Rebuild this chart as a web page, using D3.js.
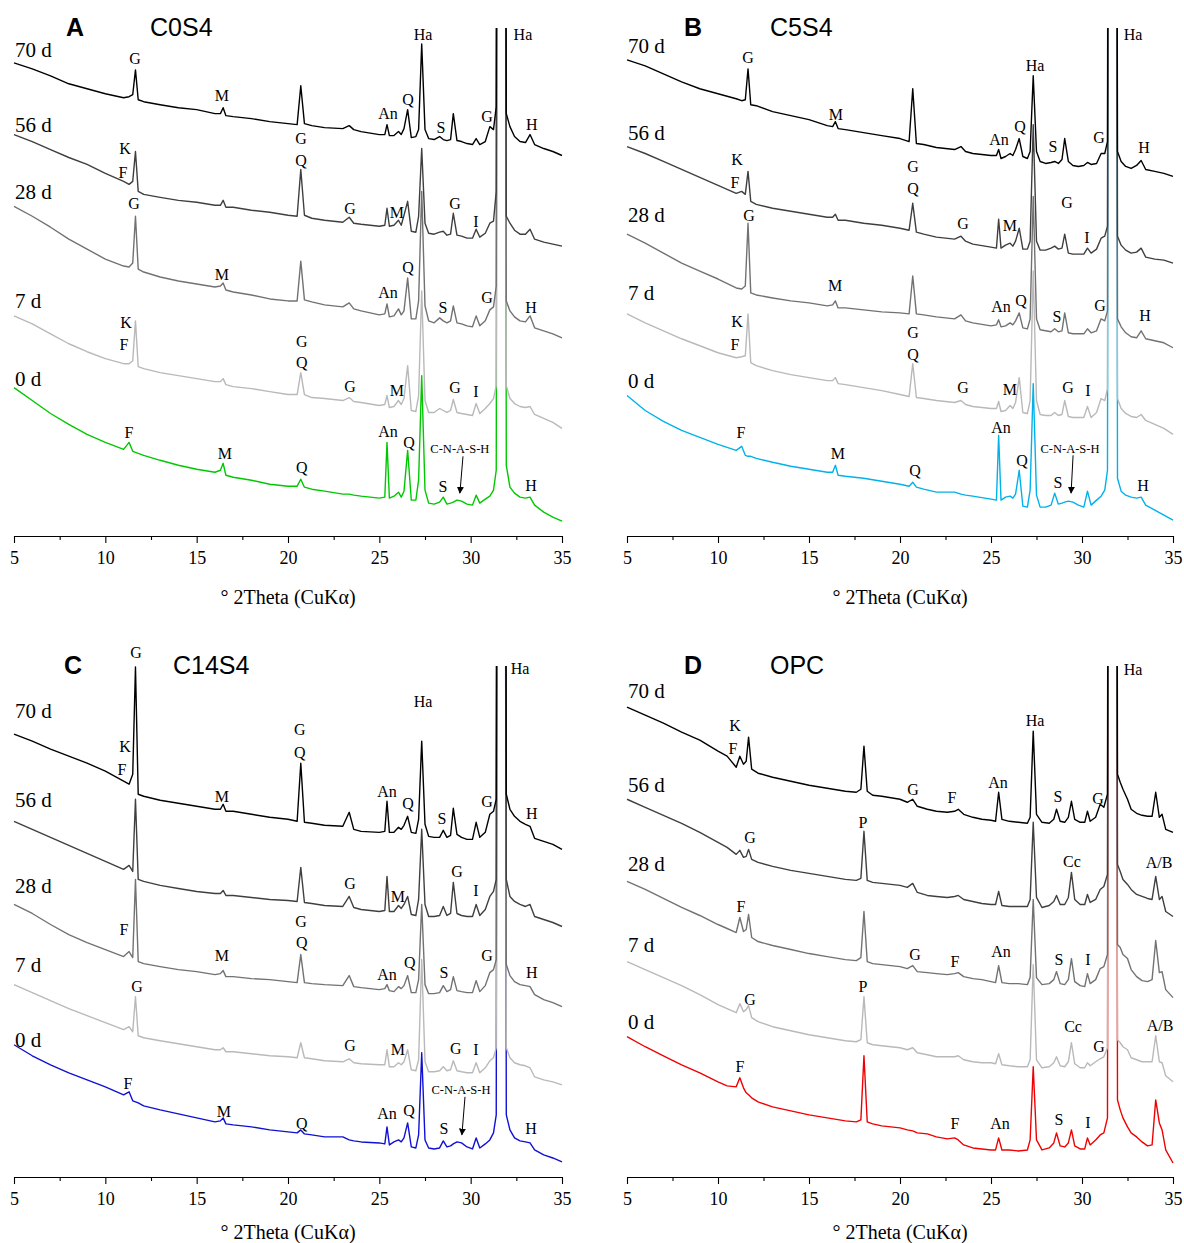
<!DOCTYPE html>
<html>
<head>
<meta charset="utf-8">
<script src="https://cdn.jsdelivr.net/npm/d3@7"></script>
<style>
  body { margin: 0; background: #fff; }
  svg { display: block; }
</style>
</head>
<body>
<svg id="chart" width="1184" height="1243"></svg>
<script>
// ---- XRD patterns (intensity in a.u., curves already offset by curing age) ----
const ages = ["70 d", "56 d", "28 d", "7 d", "0 d"];
const majorTicks = [5, 10, 15, 20, 25, 30, 35];
const minorTicks = [7.5, 12.5, 17.5, 22.5, 27.5, 32.5];
const agedColors = ["#000000", "#3f3f3f", "#727272", "#b9b9b9"];

// 2θ sampling used for the slag-blend series (panels A–C)
const gridABC = [5,6,7,8,9,10,11,11.3,11.5,11.65,11.8,12.1,13,14,15,16,16.3,16.45,16.6,17,18,19,20,20.5,20.7,20.9,21.3,22,23,23.35,23.6,24,25,25.3,25.42,25.55,25.8,26.05,26.2,26.35,26.55,26.75,27,27.15,27.32,27.5,27.7,28,28.3,28.5,28.7,28.9,29.05,29.25,29.5,29.8,30.1,30.3,30.5,30.8,31.05,31.25,31.4,31.55,31.8,31.95,32.15,32.4,32.7,33,33.25,33.5,34,34.5,35];
// 2θ sampling used for the OPC series (panel D)
const gridD = [5,6,7,8,9,10,10.5,11,11.2,11.4,11.55,11.68,11.85,12.2,13,14,15,16,17,17.6,17.85,18.02,18.2,18.5,19,20,20.4,20.7,20.95,21.5,22,22.6,23,23.2,23.5,24,24.5,25,25.25,25.42,25.6,26,26.5,27,27.15,27.32,27.5,27.8,28.2,28.45,28.6,28.8,29.05,29.25,29.42,29.6,29.9,30.15,30.3,30.45,30.75,31,31.2,31.4,31.55,31.8,31.95,32.1,32.25,32.5,32.7,33,33.3,33.6,33.85,34.05,34.25,34.4,34.6,35];

// C0S4
const c0s4_70 = [4750,4690,4620,4540,4490,4440,4400,4410,4430,4680,4380,4360,4330,4300,4280,4240,4240,4300,4220,4210,4190,4160,4140,4130,4520,4140,4120,4100,4090,4120,4080,4060,4030,4030,4130,4020,4020,4060,4030,4090,4280,4000,4010,4080,4940,4080,3990,3980,4010,3980,3970,3980,4240,3970,3960,3940,3930,3990,3930,3960,4110,4080,4310,20000,20000,4240,4110,4010,3960,3950,4030,3930,3890,3860,3820];
const c0s4_56 = [4030,3960,3880,3800,3730,3640,3560,3530,3560,3860,3460,3430,3400,3370,3350,3320,3320,3370,3300,3300,3270,3250,3220,3210,3680,3220,3190,3170,3150,3200,3140,3130,3110,3120,3290,3110,3120,3170,3120,3220,3360,3060,3050,3210,3890,3140,3040,3030,3050,3060,3020,3030,3240,3020,3010,2990,2990,3080,3000,3040,3140,3160,3460,20000,20000,3210,3140,3070,3030,3030,3080,2980,2950,2930,2910];
const c0s4_28 = [3310,3210,3100,2980,2880,2780,2710,2700,2740,3210,2680,2650,2600,2560,2530,2500,2510,2540,2470,2450,2420,2380,2360,2360,2760,2370,2350,2320,2300,2340,2280,2260,2220,2230,2330,2200,2210,2280,2220,2260,2590,2180,2180,2360,3460,2310,2160,2140,2190,2160,2140,2160,2310,2140,2130,2110,2100,2210,2110,2160,2270,2300,2510,20000,20000,2360,2260,2200,2160,2150,2210,2090,2060,2030,1990];
const c0s4_7 = [2210,2130,2030,1930,1850,1780,1730,1730,1760,2160,1700,1680,1640,1610,1580,1550,1550,1580,1520,1500,1480,1450,1420,1420,1640,1420,1390,1380,1360,1390,1350,1340,1310,1320,1410,1290,1300,1360,1320,1380,1710,1260,1250,1410,2460,1360,1240,1240,1280,1260,1240,1260,1370,1240,1230,1220,1210,1330,1230,1280,1330,1380,1510,20000,20000,1510,1380,1330,1300,1290,1300,1220,1180,1140,1080];
const c0s4_0 = [1490,1360,1230,1120,1020,940,870,940,850,840,830,810,760,710,670,640,660,730,610,590,560,520,500,500,570,490,470,450,420,420,410,400,380,390,940,380,400,440,390,450,860,360,360,560,1610,460,330,320,340,390,320,330,340,360,350,320,310,410,330,370,400,460,660,20000,20000,710,490,430,390,380,390,310,240,190,150];

// C5S4
const c5s4_70 = [4780,4720,4640,4560,4490,4440,4390,4370,4380,4690,4330,4320,4260,4220,4180,4120,4110,4160,4090,4080,4050,4020,3990,3960,4490,3940,3930,3900,3880,3910,3860,3840,3820,3820,3880,3790,3810,3840,3820,3880,3990,3810,3790,3860,4620,3860,3760,3740,3750,3760,3740,3780,3990,3760,3720,3710,3720,3750,3730,3740,3840,3840,3960,20000,20000,3860,3760,3710,3690,3720,3770,3680,3660,3640,3610];
const c5s4_56 = [3910,3840,3760,3680,3600,3520,3440,3460,3430,3660,3360,3330,3290,3260,3230,3200,3200,3230,3170,3170,3140,3120,3090,3070,3340,3050,3030,3000,2980,3010,2960,2930,2900,2890,3180,2890,2920,2940,2910,2960,3090,2880,2880,2960,4130,2960,2870,2870,2890,2910,2880,2890,3030,2840,2830,2830,2830,2890,2840,2880,2990,3010,3110,20000,20000,3010,2920,2870,2840,2850,2890,2800,2780,2770,2740];
const c5s4_28 = [3030,2940,2840,2740,2660,2580,2490,2480,2510,3140,2440,2420,2390,2360,2340,2310,2320,2360,2290,2290,2270,2250,2240,2230,2610,2230,2220,2200,2180,2220,2160,2140,2110,2120,2170,2100,2110,2140,2120,2160,2240,2090,2080,2180,3410,2180,2070,2060,2050,2080,2050,2060,2240,2040,2030,2030,2030,2080,2040,2060,2180,2160,2260,20000,20000,2180,2100,2040,2000,1990,2060,1980,1960,1940,1890];
const c5s4_7 = [2230,2140,2060,1980,1910,1840,1790,1800,1810,2230,1740,1710,1660,1620,1590,1560,1560,1590,1530,1520,1490,1460,1420,1400,1730,1390,1380,1360,1340,1360,1320,1300,1280,1280,1350,1250,1260,1310,1280,1340,1590,1240,1230,1360,2660,1360,1220,1210,1210,1240,1210,1220,1360,1200,1190,1190,1190,1300,1190,1240,1380,1360,1480,20000,20000,1380,1280,1230,1200,1190,1220,1160,1120,1080,1020];
const c5s4_0 = [1410,1260,1150,1060,990,920,860,900,810,800,800,780,740,700,670,640,640,710,610,600,580,550,520,500,540,490,470,440,440,420,410,400,370,360,1010,360,390,400,380,420,660,300,290,460,1530,410,290,290,310,430,320,330,340,350,340,310,290,450,310,360,400,460,660,20000,20000,580,450,410,390,380,390,310,260,210,160];

// C14S4
const c14s4_70 = [4420,4350,4270,4200,4130,4050,3950,3920,4020,5090,3820,3800,3760,3730,3700,3670,3670,3720,3650,3650,3620,3590,3570,3550,4130,3540,3530,3510,3500,3640,3470,3450,3440,3450,3750,3440,3440,3490,3470,3510,3600,3440,3430,3570,4350,3520,3400,3390,3390,3460,3390,3410,3680,3420,3390,3370,3370,3540,3390,3440,3620,3650,3770,20000,20000,3820,3670,3600,3550,3520,3500,3380,3350,3320,3270];
const c14s4_56 = [3550,3470,3390,3310,3230,3150,3070,3110,3050,3770,2970,2950,2910,2880,2850,2830,2830,2860,2810,2810,2790,2770,2760,2750,3090,2740,2730,2710,2700,2800,2690,2670,2650,2660,3000,2650,2650,2710,2680,2720,2800,2620,2610,2770,3470,2720,2600,2600,2610,2700,2610,2630,2940,2630,2610,2600,2600,2720,2610,2670,2800,2850,2970,20000,20000,2970,2800,2750,2720,2700,2720,2600,2570,2540,2500];
const c14s4_28 = [2720,2630,2520,2420,2340,2270,2200,2250,2190,2970,2150,2130,2100,2070,2050,2020,2030,2060,2000,2000,1980,1970,1950,1940,2220,1940,1930,1920,1910,2010,1900,1890,1870,1880,1920,1860,1850,1900,1880,1910,2010,1840,1840,1970,2720,1920,1830,1830,1840,1910,1850,1870,2000,1860,1850,1840,1840,1960,1850,1910,2040,2070,2170,20000,20000,2120,2010,1950,1920,1910,1900,1820,1770,1740,1700];
const c14s4_7 = [1920,1840,1760,1680,1610,1540,1470,1500,1450,1800,1410,1390,1360,1330,1300,1270,1270,1290,1250,1250,1230,1210,1200,1190,1340,1190,1180,1160,1150,1180,1140,1130,1120,1120,1270,1100,1100,1140,1120,1150,1270,1070,1060,1170,2170,1150,1050,1050,1060,1100,1060,1070,1160,1060,1050,1040,1040,1140,1040,1090,1160,1190,1290,20000,20000,1290,1190,1140,1120,1110,1090,1000,970,950,920];
const c14s4_0 = [1320,1210,1120,1040,970,900,820,850,760,750,740,710,670,630,590,550,560,590,530,520,500,470,450,440,470,430,420,400,400,370,360,350,340,330,500,320,350,370,350,390,540,300,290,420,1240,370,290,280,290,360,300,310,330,350,340,300,280,390,290,330,370,440,620,20000,20000,620,470,390,360,350,340,270,220,190,150];

// OPC
const opc_70 = [4690,4610,4530,4440,4360,4250,4200,4090,4200,4120,4150,4390,4070,4030,3990,3950,3910,3880,3850,3840,3870,4300,3850,3810,3800,3770,3740,3770,3700,3670,3650,3640,3650,3670,3620,3590,3570,3560,3550,3840,3570,3550,3540,3530,3590,4450,3620,3540,3530,3570,3670,3550,3540,3590,3750,3570,3540,3540,3650,3550,3590,3720,3690,3820,20000,20000,4020,3940,3870,3770,3670,3630,3610,3600,3600,3840,3590,3620,3470,3440];
const opc_56 = [3770,3690,3610,3530,3440,3340,3290,3220,3260,3190,3200,3270,3170,3140,3100,3060,3030,3000,2970,2960,2980,3450,2960,2940,2930,2910,2890,2930,2840,2810,2800,2790,2800,2810,2770,2750,2730,2720,2720,2850,2710,2700,2700,2700,2770,3540,2790,2690,2710,2750,2810,2720,2720,2790,3040,2770,2720,2720,2820,2740,2770,2870,2900,3020,20000,20000,3120,3050,2970,2920,2870,2820,2800,2780,2770,3000,2770,2800,2650,2600];
const opc_28 = [2950,2870,2780,2690,2610,2520,2480,2440,2590,2450,2470,2620,2390,2350,2310,2270,2230,2200,2170,2160,2190,2650,2150,2130,2120,2100,2080,2110,2050,2040,2030,2020,2030,2040,2000,1980,1970,1950,1940,2110,1940,1930,1930,1920,1990,2770,1990,1920,1930,1970,2050,1930,1920,1970,2180,1950,1910,1900,2030,1930,1970,2080,2100,2220,20000,20000,2320,2290,2220,2180,2070,2000,1960,1950,1970,2360,2040,2050,1870,1790];
const opc_7 = [2150,2070,1990,1910,1820,1720,1680,1640,1730,1650,1670,1710,1590,1550,1500,1460,1420,1390,1360,1350,1370,1800,1340,1320,1310,1290,1270,1290,1240,1220,1200,1200,1200,1210,1170,1150,1140,1140,1130,1230,1120,1110,1100,1100,1170,2120,1170,1090,1100,1140,1200,1110,1100,1150,1340,1130,1090,1090,1140,1110,1150,1180,1200,1290,20000,20000,1370,1340,1300,1270,1190,1170,1150,1150,1150,1410,1150,1140,1010,950];
const opc_0 = [1400,1300,1210,1120,1040,950,910,900,990,890,840,820,790,750,700,660,620,590,560,550,570,1210,550,530,510,490,470,460,440,430,400,380,390,370,320,290,280,270,270,390,270,270,260,270,370,1100,370,270,290,340,440,310,300,340,470,310,280,280,390,320,370,420,440,590,20000,20000,770,670,590,500,440,400,350,310,320,770,540,470,270,140];

// Phase labels: [text, 2θ, intensity]
const phasesC0S4 = [
  ["G",11.62,4790],["M",16.38,4420],["An",25.47,4240],["Q",26.57,4380],["Ha",27.39,5040],["S",28.37,4100],["G",30.89,4210],["Ha",32.86,5040],["H",33.35,4130],
  ["K",11.08,3890],["F",10.97,3650],["G",20.71,3990],["Q",20.71,3770],["G",23.39,3290],["M",25.96,3250],["G",29.14,3340],["I",30.29,3160],
  ["G",11.57,3340],["M",16.38,2630],["An",25.47,2450],["Q",26.57,2700],["S",28.48,2300],["G",30.89,2400],["H",33.3,2300],
  ["K",11.13,2140],["F",11.02,1920],["G",20.76,1950],["Q",20.76,1740],["G",23.39,1500],["M",25.96,1460],["G",29.14,1490],["I",30.29,1450],
  ["F",11.29,1040],["M",16.55,830],["Q",20.76,690],["An",25.47,1050],["Q",26.62,940],["S",28.48,500],["H",33.3,510]
];
const phasesC5S4 = [
  ["G",11.65,4800],["M",16.48,4230],["Ha",27.42,4720],["An",25.44,3980],["Q",26.59,4110],["S",28.41,3910],["G",30.93,4000],["Ha",32.8,5040],["H",33.41,3900],
  ["K",11.04,3780],["F",10.93,3550],["G",20.71,3710],["Q",20.71,3490],["G",23.46,3140],["M",26.04,3120],["G",29.18,3350],["I",30.27,3000],
  ["G",11.7,3220],["M",16.43,2520],["An",25.55,2310],["Q",26.65,2370],["S",28.63,2200],["G",30.99,2320],["H",33.46,2210],
  ["K",11.04,2150],["F",10.93,1920],["G",20.71,2040],["Q",20.71,1820],["G",23.46,1490],["M",26.04,1470],["G",29.23,1490],["I",30.33,1460],
  ["F",11.26,1040],["M",16.59,830],["Q",20.82,660],["An",25.55,1090],["Q",26.7,760],["S",28.68,540],["H",33.35,510]
];
const phasesC14S4 = [
  ["G",11.68,5240],["Ha",27.39,4750],["Ha",32.7,5080],["K",11.08,4300],["F",10.91,4070],["G",20.65,4470],["Q",20.65,4240],["M",16.38,3800],["An",25.42,3850],["Q",26.57,3730],["S",28.43,3580],["G",30.89,3750],["H",33.35,3630],
  ["G",23.39,2930],["M",26.02,2800],["G",29.25,3050],["I",30.29,2860],
  ["F",11.02,2470],["G",20.71,2550],["Q",20.76,2340],["M",16.38,2210],["An",25.42,2020],["Q",26.67,2140],["S",28.54,2040],["G",30.89,2210],["H",33.35,2040],
  ["G",11.73,1900],["G",23.39,1310],["M",26.02,1270],["G",29.19,1280],["I",30.29,1270],
  ["F",11.24,930],["M",16.49,650],["Q",20.76,530],["An",25.42,630],["Q",26.62,660],["S",28.54,490],["H",33.3,490]
];
const phasesOPC = [
  ["Ha",32.8,5070],["Ha",27.42,4560],["K",10.93,4510],["F",10.82,4280],["G",20.71,3870],["F",22.86,3790],["An",25.38,3940],["S",28.68,3800],["G",30.88,3780],
  ["G",11.76,3390],["P",17.97,3540],["Cc",29.45,3150],["A/B",34.23,3140],
  ["F",11.26,2700],["G",20.82,2220],["F",23.02,2150],["An",25.55,2250],["S",28.74,2170],["I",30.33,2170],
  ["G",11.76,1770],["P",17.97,1900],["Cc",29.51,1500],["G",30.93,1300],["A/B",34.29,1510],
  ["F",11.21,1100],["F",23.02,530],["An",25.49,530],["S",28.74,570],["I",30.33,540]
];

// Curve-age label heights (a.u.), one per curve
const ageLevelsC0S4 = [4880,4130,3460,2360,1580];
const ageLevelsC5S4 = [4920,4050,3230,2440,1560];
const ageLevelsC14S4 = [4650,3770,2910,2120,1370];
const ageLevelsOPC = [4850,3920,3130,2320,1550];

// C-N-A-S-H hump marker: label [2θ, intensity], arrow [2θ1, I1, 2θ2, I2]
const cnashC0S4 = { label: [29.41, 880], arrow: [29.58, 800, 29.41, 430] };
const cnashC5S4 = { label: [29.34, 880], arrow: [29.51, 810, 29.40, 430] };
const cnashC14S4 = { label: [29.47, 870], arrow: [29.69, 800, 29.52, 420] };

const panels = [
  { letter: "A", name: "C0S4", grid: gridABC, series: [c0s4_70, c0s4_56, c0s4_28, c0s4_7, c0s4_0], fresh: "#00c800", ageLevels: ageLevelsC0S4, phases: phasesC0S4, cnash: cnashC0S4 },
  { letter: "B", name: "C5S4", grid: gridABC, series: [c5s4_70, c5s4_56, c5s4_28, c5s4_7, c5s4_0], fresh: "#00b2ea", ageLevels: ageLevelsC5S4, phases: phasesC5S4, cnash: cnashC5S4 },
  { letter: "C", name: "C14S4", grid: gridABC, series: [c14s4_70, c14s4_56, c14s4_28, c14s4_7, c14s4_0], fresh: "#1010d4", ageLevels: ageLevelsC14S4, phases: phasesC14S4, cnash: cnashC14S4 },
  { letter: "D", name: "OPC", grid: gridD, series: [opc_70, opc_56, opc_28, opc_7, opc_0], fresh: "#f00000", ageLevels: ageLevelsOPC, phases: phasesOPC, cnash: null }
];

// ---- layout of the 2x2 grid of panels ----
const frames = [
  { x0: 14,  x1: 562,  top: 28,  axisY: 536,  letterX: 66,  nameX: 150, titleY: 27,  xTitleY: 604 },
  { x0: 627, x1: 1173, top: 28,  axisY: 536,  letterX: 684, nameX: 770, titleY: 27,  xTitleY: 604 },
  { x0: 14,  x1: 562,  top: 666, axisY: 1177, letterX: 64,  nameX: 173, titleY: 665, xTitleY: 1239 },
  { x0: 627, x1: 1173, top: 666, axisY: 1177, letterX: 684, nameX: 770, titleY: 665, xTitleY: 1239 }
];

const serif = "'Liberation Serif', 'Times New Roman', serif";
const sans = "'Liberation Sans', Arial, sans-serif";

const svg = d3.select("#chart");
svg.append("rect").attr("width", 1184).attr("height", 1243).attr("fill", "#fff");

const defs = svg.append("defs");
defs.append("marker")
  .attr("id", "arrowhead")
  .attr("viewBox", "0 0 10 10")
  .attr("refX", 9).attr("refY", 5)
  .attr("markerWidth", 7).attr("markerHeight", 7)
  .attr("markerUnits", "userSpaceOnUse")
  .attr("orient", "auto")
  .append("path").attr("d", "M0,0 L10,5 L0,10 z").attr("fill", "#000");

panels.forEach((p, i) => {
  const f = frames[i];
  const x = d3.scaleLinear().domain([5, 35]).range([f.x0, f.x1]);
  const y = d3.scaleLinear().domain([0, 5100]).range([f.axisY, f.top]);
  const g = svg.append("g");

  defs.append("clipPath").attr("id", "plot-clip-" + i)
    .append("rect")
    .attr("x", f.x0 - 2).attr("y", f.top)
    .attr("width", f.x1 - f.x0 + 4).attr("height", f.axisY - f.top);

  // patterns: the fresh (0 d) sample underneath, oldest on top
  const colors = agedColors.concat([p.fresh]);
  const line = d3.line()
    .x((d, k) => x(p.grid[k]))
    .y(d => y(d));
  const plot = g.append("g").attr("clip-path", `url(#plot-clip-${i})`);
  const order = d3.range(p.series.length).reverse();
  order.forEach(s => {
    plot.append("path")
      .datum(p.series[s])
      .attr("d", line)
      .attr("fill", "none")
      .attr("stroke", colors[s])
      .attr("stroke-width", 1.4)
      .attr("stroke-linejoin", "round");
  });

  // x axis with outward major and minor ticks
  const axisG = g.append("g").attr("transform", `translate(0,${f.axisY})`)
    .call(d3.axisBottom(x).tickValues(majorTicks).tickSize(7).tickSizeOuter(0).tickPadding(8));
  axisG.attr("font-family", serif).attr("font-size", 18);
  axisG.selectAll("text").attr("fill", "#000");
  axisG.selectAll("line, path").attr("stroke", "#000").attr("stroke-width", 1.1);

  const minorG = g.append("g").attr("transform", `translate(0,${f.axisY})`)
    .call(d3.axisBottom(x).tickValues(minorTicks).tickSize(4).tickFormat(""));
  minorG.select(".domain").remove();
  minorG.selectAll("line").attr("stroke", "#000").attr("stroke-width", 1.1);

  g.append("text")
    .attr("x", (f.x0 + f.x1) / 2).attr("y", f.xTitleY)
    .attr("text-anchor", "middle")
    .attr("font-family", serif).attr("font-size", 20)
    .text("° 2Theta (CuKα)");

  // panel letter and sample name
  g.append("text")
    .attr("x", f.letterX).attr("y", f.titleY).attr("dy", "0.35em")
    .attr("font-family", sans).attr("font-weight", "bold").attr("font-size", 25)
    .text(p.letter);
  g.append("text")
    .attr("x", f.nameX).attr("y", f.titleY).attr("dy", "0.35em")
    .attr("font-family", sans).attr("font-size", 25)
    .text(p.name);

  // curing-age labels at the left end of each curve
  ages.forEach((a, k) => {
    g.append("text")
      .attr("x", x(5) + 1).attr("y", y(p.ageLevels[k])).attr("dy", "0.35em")
      .attr("font-family", serif).attr("font-size", 21)
      .text(a);
  });

  // phase identification labels
  g.selectAll("text.phase").data(p.phases).enter().append("text")
    .attr("class", "phase")
    .attr("x", d => x(d[1])).attr("y", d => y(d[2])).attr("dy", "0.35em")
    .attr("text-anchor", "middle")
    .attr("font-family", serif).attr("font-size", 16)
    .text(d => d[0]);

  if (p.cnash) {
    g.append("text")
      .attr("x", x(p.cnash.label[0])).attr("y", y(p.cnash.label[1])).attr("dy", "0.35em")
      .attr("text-anchor", "middle")
      .attr("font-family", serif).attr("font-size", 12.5)
      .text("C-N-A-S-H");
    const a = p.cnash.arrow;
    g.append("line")
      .attr("x1", x(a[0])).attr("y1", y(a[1]))
      .attr("x2", x(a[2])).attr("y2", y(a[3]))
      .attr("stroke", "#000").attr("stroke-width", 1)
      .attr("marker-end", "url(#arrowhead)");
  }
});
</script>
</body>
</html>
